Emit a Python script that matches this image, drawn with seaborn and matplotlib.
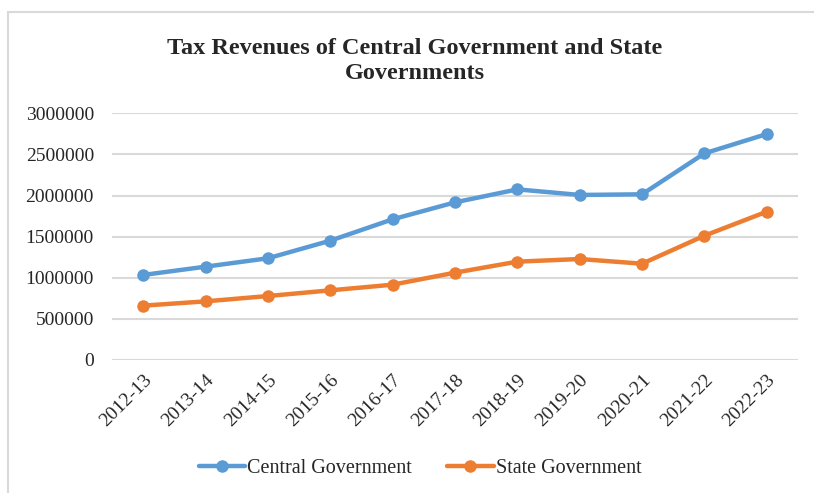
import pandas as pd
import matplotlib.pyplot as plt
import seaborn as sns
from matplotlib.patches import Rectangle

years = ["2012-13", "2013-14", "2014-15", "2015-16", "2016-17", "2017-18",
         "2018-19", "2019-20", "2020-21", "2021-22", "2022-23"]
central = [1034000, 1135000, 1237000, 1451000, 1711000, 1917000,
           2075000, 2007000, 2015000, 2513000, 2748000]
state = [661000, 713000, 778000, 847000, 916000, 1062000,
         1196000, 1228000, 1171000, 1512000, 1804000]

COLORES = {"Central Government": "#5B9BD5", "State Government": "#ED7D31"}


def armar_tabla():
    df_c = pd.DataFrame({"year": years, "value": central, "serie": "Central Government"})
    df_s = pd.DataFrame({"year": years, "value": state, "serie": "State Government"})
    return pd.concat([df_c, df_s], ignore_index=True)


def graficar(df):
    sns.set_style("white")
    plt.rcParams["font.family"] = ["Liberation Serif", "DejaVu Serif"]

    fig = plt.figure(figsize=(8.14, 4.93), dpi=100)
    ax = fig.add_axes([112 / 814, 1 - 360 / 493, 686 / 814, 246.7 / 493])

    sns.lineplot(
        data=df, x="year", y="value", hue="serie",
        palette=COLORES, marker="o", markersize=9,
        markeredgewidth=0, linewidth=3.2, ax=ax, sort=False
    )

    ax.set_xlim(-0.5, len(years) - 0.5)
    ax.set_ylim(0, 3000000)
    ax.set_yticks(range(0, 3000001, 500000))
    ax.set_yticklabels([str(v) for v in range(0, 3000001, 500000)], fontsize=14)
    ax.set_xticks(range(len(years)))
    ax.set_xticklabels(years, fontsize=14, rotation=45, ha="right",
                       rotation_mode="anchor")
    ax.tick_params(axis="both", length=0)
    ax.tick_params(axis="x", pad=8)
    ax.tick_params(axis="y", pad=13)
    ax.yaxis.grid(True, color="#D9D9D9", linewidth=1.5)
    ax.set_axisbelow(True)
    for s in ax.spines.values():
        s.set_visible(False)
    ax.set_xlabel("")
    ax.set_ylabel("")

    handles, labels = ax.get_legend_handles_labels()
    ax.get_legend().remove()
    fig.legend(handles, labels, loc="center", bbox_to_anchor=(420 / 814, 1 - 468 / 493),
               ncol=2, frameon=False, fontsize=14.5, handlelength=2.3,
               handletextpad=0.1, columnspacing=1.75)

    fig.text(415 / 814, 1 - 61 / 493,
             "Tax Revenues of Central Government and State\nGovernments",
             ha="center", va="center", fontsize=17.5, fontweight="bold",
             linespacing=1.3)

    fig.patches.append(Rectangle((8 / 814, -0.01), 1.0, 1 - 12 / 493 + 0.01,
                                 transform=fig.transFigure, fill=False,
                                 edgecolor="#D9D9D9", linewidth=1.5))

    fig.savefig("out.png", dpi=100)
    plt.close()


def main():
    df = armar_tabla()
    graficar(df)


if __name__ == "__main__":
    main()
